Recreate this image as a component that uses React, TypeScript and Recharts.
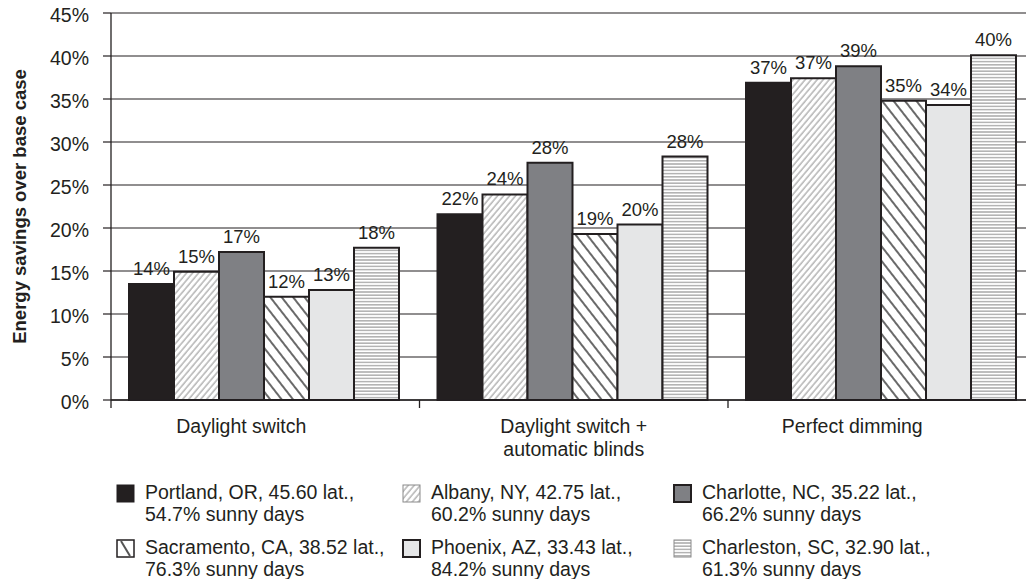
import { Bar, BarChart, CartesianGrid, LabelList, Legend, XAxis, YAxis } from "recharts";

const CATEGORIES = ["Daylight switch", "Daylight switch +\nautomatic blinds", "Perfect dimming"];

// savings per city, one value per control strategy (percent)
const PORTLAND = [13.5, 21.6, 36.9];
const ALBANY = [14.9, 23.9, 37.4];
const CHARLOTTE = [17.2, 27.6, 38.8];
const SACRAMENTO = [12.0, 19.3, 34.8];
const PHOENIX = [12.8, 20.4, 34.3];
const CHARLESTON = [17.7, 28.3, 40.1];

const Y_TICKS = [0, 5, 10, 15, 20, 25, 30, 35, 40, 45];

const CITY_LABELS = [
  ["Portland, OR, 45.60 lat.,", "54.7% sunny days"],
  ["Albany, NY, 42.75 lat.,", "60.2% sunny days"],
  ["Charlotte, NC, 35.22 lat.,", "66.2% sunny days"],
  ["Sacramento, CA, 38.52 lat.,", "76.3% sunny days"],
  ["Phoenix, AZ, 33.43 lat.,", "84.2% sunny days"],
  ["Charleston, SC, 32.90 lat.,", "61.3% sunny days"],
];

const INK = "#231f20";
const FONT = '"Liberation Sans", Arial, Helvetica, sans-serif';

const SERIES = [
  { key: "portland", values: PORTLAND, fill: INK, swatchStroke: INK, swatchWidth: 1, slash: false },
  { key: "albany", values: ALBANY, fill: "url(#hatch-albany)", swatchStroke: "#8a8a8a", swatchWidth: 1, slash: false },
  { key: "charlotte", values: CHARLOTTE, fill: "#7f8084", swatchStroke: INK, swatchWidth: 2, slash: false },
  { key: "sacramento", values: SACRAMENTO, fill: "url(#hatch-sacramento)", swatchStroke: INK, swatchWidth: 1.5, slash: true },
  { key: "phoenix", values: PHOENIX, fill: "#e5e6e7", swatchStroke: INK, swatchWidth: 2, slash: false },
  { key: "charleston", values: CHARLESTON, fill: "url(#lines-charleston)", swatchStroke: "#8a8a8a", swatchWidth: 1, slash: false },
];

const data = CATEGORIES.map((name, i) => {
  const row: Record<string, string | number> = { name };
  SERIES.forEach((s) => {
    row[s.key] = s.values[i];
  });
  return row;
});

const CHART_W = 1050;
const CHART_H = 579;
const MARGIN = { top: 13, right: 13.5, bottom: 119, left: 0 };
const Y_AXIS_W = 111;
const BAND = (CHART_W - MARGIN.left - MARGIN.right - Y_AXIS_W) / CATEGORIES.length;
// the outer two category captions sit a little left of their groups
const CAPTION_SHIFT = [-24, 0, -30];

const pct = (v: unknown) => `${Math.round(Number(v))}%`;

function CategoryTick(props: any) {
  const { x, y, payload, index } = props;
  const lines = String(payload.value).split("\n");
  const cx = x + (CAPTION_SHIFT[index] ?? 0);
  const left = x - BAND / 2;
  return (
    <g>
      <line x1={left} x2={left} y1={y - 8} y2={y} stroke={INK} strokeWidth={1.3} />
      {index === CATEGORIES.length - 1 && (
        <line x1={x + BAND / 2} x2={x + BAND / 2} y1={y - 8} y2={y} stroke={INK} strokeWidth={1.3} />
      )}
      <text x={cx} y={y + 25} textAnchor="middle" fill={INK} fontSize={19.5} fontFamily={FONT}>
        {lines.map((line, i) => (
          <tspan key={i} x={cx} dy={i === 0 ? 0 : 22.5}>
            {line}
          </tspan>
        ))}
      </text>
    </g>
  );
}

function PercentTick(props: any) {
  const { x, y, payload } = props;
  return (
    <text x={x} y={y + 8.5} textAnchor="end" fill={INK} fontSize={19.5} fontFamily={FONT}>
      {`${payload.value}%`}
    </text>
  );
}

function YTitle(props: any) {
  const vb = props.viewBox ?? { y: 13, height: 387 };
  const cy = vb.y + vb.height / 2;
  return (
    <text
      x={26}
      y={cy}
      transform={`rotate(-90 26 ${cy})`}
      textAnchor="middle"
      fill={INK}
      fontSize={18.5}
      fontWeight="bold"
      fontFamily={FONT}
    >
      Energy savings over base case
    </text>
  );
}

function Swatch({ fill, stroke, width, slash }: { fill: string; stroke: string; width: number; slash: boolean }) {
  return (
    <svg width={19} height={19} style={{ display: "block", flex: "none" }}>
      <rect x={1} y={1} width={17} height={17} fill={slash ? "#fff" : fill} stroke={stroke} strokeWidth={width} />
      {slash && <line x1={5} y1={2} x2={14} y2={17} stroke="#555" strokeWidth={2} />}
    </svg>
  );
}

function CityLegend() {
  return (
    <div
      style={{
        display: "grid",
        gridTemplateColumns: "286px 271px 300px",
        rowGap: 11,
        paddingLeft: 116,
        fontFamily: FONT,
        fontSize: 19.5,
        lineHeight: "22px",
        color: INK,
      }}
    >
      {SERIES.map((s, i) => (
        <div key={s.key} style={{ display: "flex", alignItems: "flex-start" }}>
          <div style={{ marginTop: 3, marginRight: 10 }}>
            <Swatch fill={s.fill} stroke={s.swatchStroke} width={s.swatchWidth} slash={s.slash} />
          </div>
          <div style={{ whiteSpace: "nowrap" }}>
            {CITY_LABELS[i].map((line) => (
              <div key={line}>{line}</div>
            ))}
          </div>
        </div>
      ))}
    </div>
  );
}

export default function App() {
  return (
    <div
      style={{
        position: "fixed",
        top: 0,
        left: 0,
        width: 1026,
        height: 579,
        overflow: "hidden",
        background: "#fff",
      }}
    >
      <BarChart
        width={CHART_W}
        height={CHART_H}
        data={data}
        margin={MARGIN}
        barCategoryGap={18}
        barGap={0}
      >
        <defs>
          <pattern id="hatch-albany" patternUnits="userSpaceOnUse" width={4.6} height={10} patternTransform="rotate(40)">
            <rect width={4.6} height={10} fill="#fff" />
            <line x1={1} y1={0} x2={1} y2={10} stroke="#8f8f8f" strokeWidth={1} />
          </pattern>
          <pattern id="hatch-sacramento" patternUnits="userSpaceOnUse" width={9} height={10} patternTransform="rotate(-38)">
            <rect width={9} height={10} fill="#fff" />
            <line x1={3} y1={0} x2={3} y2={10} stroke="#6a6a6a" strokeWidth={2} />
          </pattern>
          <pattern id="lines-charleston" patternUnits="userSpaceOnUse" width={10} height={3.2}>
            <rect width={10} height={3.2} fill="#fff" />
            <line x1={0} y1={0.8} x2={10} y2={0.8} stroke="#9a9a9a" strokeWidth={1.2} />
          </pattern>
        </defs>
        <CartesianGrid vertical={false} stroke={INK} strokeWidth={1.2} />
        <XAxis
          dataKey="name"
          height={60}
          tickLine={false}
          tickSize={8}
          tickMargin={0}
          axisLine={{ stroke: INK, strokeWidth: 1.3 }}
          tick={<CategoryTick />}
          interval={0}
        />
        <YAxis
          width={Y_AXIS_W}
          domain={[0, 45]}
          ticks={Y_TICKS}
          tickSize={8}
          tickMargin={14}
          tickLine={{ stroke: INK, strokeWidth: 1.2 }}
          axisLine={{ stroke: INK, strokeWidth: 1.3 }}
          tick={<PercentTick />}
          label={<YTitle />}
          interval={0}
        />
        <Legend
          layout="horizontal"
          verticalAlign="middle"
          align="center"
          wrapperStyle={{ position: "absolute", left: 0, top: 481, width: 1026, height: "auto" }}
          content={<CityLegend />}
        />
        {SERIES.map((s) => (
          <Bar
            key={s.key}
            dataKey={s.key}
            fill={s.fill}
            stroke={INK}
            strokeWidth={2}
            isAnimationActive={false}
          >
            <LabelList
              dataKey={s.key}
              position="top"
              offset={9}
              formatter={pct}
              fill={INK}
              fontSize={18.5}
              fontFamily={FONT}
            />
          </Bar>
        ))}
      </BarChart>
    </div>
  );
}
